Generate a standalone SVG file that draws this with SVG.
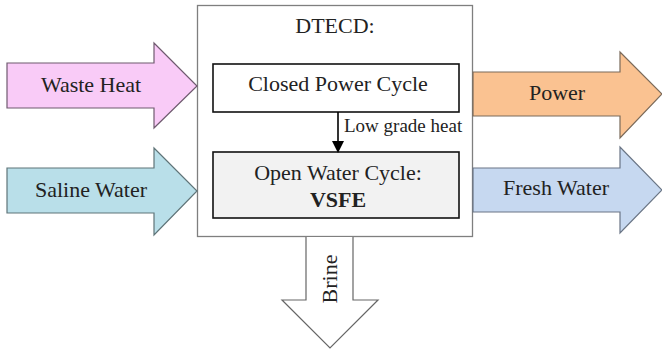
<svg xmlns="http://www.w3.org/2000/svg" width="662" height="354" viewBox="0 0 662 354">
<style>
text{font-family:"Liberation Serif","Times New Roman",serif;fill:#222;}
.lbl{font-size:22px;text-anchor:middle;}
.big{stroke:#7f7f7f;stroke-width:1.3;}
.box{stroke:#111;stroke-width:1.6;}
</style>
<defs>
<marker id="ah" markerWidth="12" markerHeight="12" refX="10" refY="6" orient="auto" markerUnits="userSpaceOnUse">
<path d="M0,0 L12,6 L0,12 Z" fill="#000"/>
</marker>
</defs>
<rect width="662" height="354" fill="#fff"/>
<g id="dtecd">
<rect x="197.5" y="5.5" width="275" height="231" fill="#fff" class="big"/>
<text x="335" y="33" class="lbl">DTECD:</text>
</g>
<g id="waste-heat">
<path d="M7,63 H154 V43 L197,86 L154,128 V108 H7 Z" fill="#f9cbf7" stroke="#6f5a6f" stroke-width="1.2"/>
<text x="91" y="92" class="lbl">Waste Heat</text>
</g>
<g id="saline-water">
<path d="M7,168 H154 V148 L197,191 L154,235 V213 H7 Z" fill="#b9dfe9" stroke="#5f7478" stroke-width="1.2"/>
<text x="91" y="197" class="lbl">Saline Water</text>
</g>
<g id="power">
<path d="M473,72 H620 V52 L662,94 L620,138 V116 H473 Z" fill="#fac291" stroke="#7a6a5a" stroke-width="1.2"/>
<text x="557" y="100" class="lbl">Power</text>
</g>
<g id="fresh-water">
<path d="M473,168 H620 V147 L662,190 L620,233 V212 H473 Z" fill="#c6d8f0" stroke="#6a7585" stroke-width="1.2"/>
<text x="556" y="195" class="lbl">Fresh Water</text>
</g>
<g id="brine">
<path d="M306,237 V300 H282 L330,348 L378,300 H353 V237" fill="#fff" stroke="#666" stroke-width="1.2"/>
<text x="0" y="0" class="lbl" transform="translate(337,279) rotate(-90)">Brine</text>
</g>
<g id="closed-power-cycle">
<rect x="213" y="64" width="246" height="48" fill="#fff" class="box"/>
<text x="338" y="91" class="lbl">Closed Power Cycle</text>
</g>
<g id="open-water-cycle">
<rect x="213" y="152" width="246" height="66" fill="#f2f2f2" class="box"/>
<text x="338" y="180" class="lbl">Open Water Cycle:</text>
<text x="338" y="207" class="lbl" font-weight="bold">VSFE</text>
</g>
<g id="connectors">
<line x1="338" y1="112" x2="338" y2="151" stroke="#000" stroke-width="1.6" marker-end="url(#ah)"/>
<text x="344" y="132" font-size="19">Low grade heat</text>
</g>
</svg>
